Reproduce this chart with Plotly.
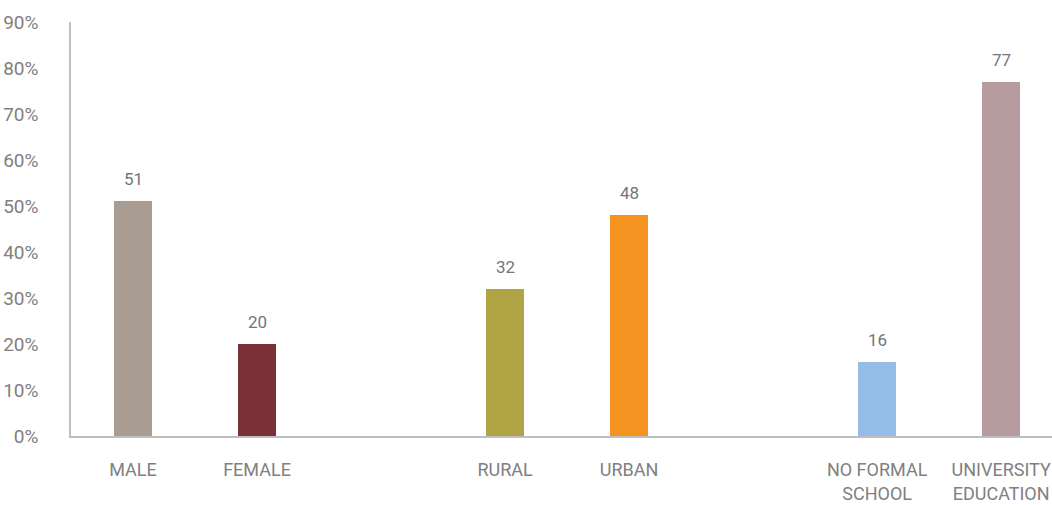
import plotly.graph_objects as go

# Share of respondents by group (percent)
categories = ["MALE", "FEMALE", "RURAL", "URBAN", "NO FORMAL<br>SCHOOL", "UNIVERSITY<br>EDUCATION"]
values = [51, 20, 32, 48, 16, 77]
# slot positions: an empty slot separates each pair of groups
positions = [0, 1, 3, 4, 6, 7]
colors = ["#a99c93", "#7b2f36", "#b1a444", "#f49320", "#93bde6", "#b69c9e"]

y_ticks = list(range(0, 91, 10))
y_tick_text = [f"{v}%" for v in y_ticks]

FONT = "Roboto, Liberation Sans Narrow, sans-serif"

fig = go.Figure()
fig.add_trace(go.Bar(
    x=positions,
    y=values,
    marker=dict(color=colors, line=dict(width=0)),
    width=0.31,
    hoverinfo="skip",
))

for xp, v in zip(positions, values):
    fig.add_annotation(
        x=xp, y=v, text=str(v), showarrow=False,
        yanchor="middle", yshift=22,
        font=dict(family=FONT, size=17, color="#757575"),
    )

fig.update_layout(
    width=1052, height=505,
    margin=dict(l=71, r=0, t=22, b=69),
    plot_bgcolor="white", paper_bgcolor="white",
    showlegend=False,
    bargap=0,
    font=dict(family=FONT, color="#7f7f7f"),
)
fig.update_xaxes(
    range=[-0.5, 7.41],
    tickvals=positions, ticktext=categories,
    tickfont=dict(family=FONT, size=18, color="#808080"),
    showgrid=False, zeroline=False,
    showline=True, linecolor="#bfbfbf", linewidth=1.5,
    ticks="", ticklabelstandoff=17,
    ticklabeloverflow="allow", automargin=False,
)
fig.update_yaxes(
    range=[0, 90],
    tickvals=y_ticks, ticktext=y_tick_text,
    tickfont=dict(family=FONT, size=19, color="#808080"),
    showgrid=False, zeroline=False,
    showline=True, linecolor="#bfbfbf", linewidth=1.5,
    ticks="", ticklabelstandoff=27, automargin=False,
)

fig.write_html("out.html")
